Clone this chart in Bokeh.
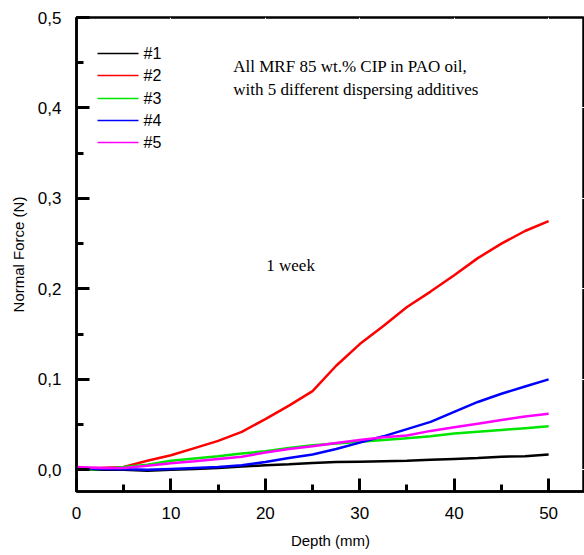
from bokeh.plotting import figure
from bokeh.models import Range1d, CustomJSTickFormatter, SingleIntervalTicker
from bokeh.core.properties import value
from bokeh.embed import file_html
from bokeh.resources import INLINE

depth = [0, 2.5, 5, 7.5, 10, 12.5, 15, 17.5, 20, 22.5, 25, 27.5, 30, 32.5, 35, 37.5, 40, 42.5, 45, 47.5, 50]
s1 = [0.001, 0.000, 0.000, -0.001, 0.000, 0.001, 0.002, 0.0035, 0.005, 0.006, 0.0075, 0.0085, 0.009, 0.0095, 0.010, 0.011, 0.012, 0.013, 0.0145, 0.015, 0.017]
s2 = [0.002, 0.002, 0.003, 0.010, 0.016, 0.024, 0.032, 0.042, 0.056, 0.071, 0.087, 0.115, 0.139, 0.159, 0.180, 0.197, 0.215, 0.234, 0.250, 0.264, 0.275]
s3 = [0.000, 0.001, 0.003, 0.0055, 0.010, 0.0125, 0.015, 0.018, 0.0205, 0.024, 0.027, 0.029, 0.031, 0.033, 0.035, 0.037, 0.040, 0.042, 0.044, 0.046, 0.048]
s4 = [0.002, 0.001, 0.0005, 0.000, 0.001, 0.002, 0.003, 0.005, 0.0085, 0.013, 0.017, 0.023, 0.030, 0.037, 0.045, 0.053, 0.064, 0.075, 0.084, 0.092, 0.100]
s5 = [0.003, 0.002, 0.002, 0.0045, 0.0073, 0.0095, 0.012, 0.0145, 0.019, 0.023, 0.026, 0.0295, 0.033, 0.036, 0.038, 0.043, 0.047, 0.051, 0.055, 0.059, 0.062]
names = ["#1", "#2", "#3", "#4", "#5"]
colors = ["#000000", "#ff0000", "#00e600", "#0000ff", "#ff00ff"]
series = [s1, s2, s3, s4, s5]

x_title = "Depth (mm)"
y_title = "Normal Force (N)"
notes = ["All MRF 85 wt.% CIP in PAO oil,", "with 5 different dispersing additives", "1 week"]
note_x = [16.6, 16.6, 20.1]
note_y = [0.4459, 0.4209, 0.2255]

W, H = 584, 555
BL, BR, BT, BB = 76, 0, 17, 64
X0, X1, Y0, Y1 = 0, 53.8, -0.024, 0.5

p = figure(width=W, height=H, output_backend="svg", toolbar_location=None,
           x_range=Range1d(X0, X1), y_range=Range1d(Y0, Y1),
           min_border_left=BL, min_border_right=BR, min_border_top=BT, min_border_bottom=BB)
p.outline_line_color = "#000000"
p.outline_line_width = 2.5
p.xgrid.grid_line_color = "#ffffff"
p.ygrid.grid_line_color = "#ffffff"

SANS = "Liberation Sans"
SERIF = "Liberation Serif"

xa = p.xaxis[0]
ya = p.yaxis[0]
xa.ticker = SingleIntervalTicker(interval=10, num_minor_ticks=2)
ya.ticker = SingleIntervalTicker(interval=0.1, num_minor_ticks=2)
ya.formatter = CustomJSTickFormatter(code="return tick.toFixed(1).replace('.', ',');")
xa.axis_label = x_title
ya.axis_label = y_title

for ax in (xa, ya):
    ax.axis_line_width = 2.5
    ax.major_tick_line_width = 3
    ax.minor_tick_line_width = 3
    ax.major_tick_in = 13
    ax.major_tick_out = 0
    ax.minor_tick_in = 7
    ax.minor_tick_out = 0
    ax.major_label_text_font = SANS
    ax.major_label_text_font_size = "17px"
    ax.major_label_text_color = "#000000"
    ax.major_label_standoff = 15
    ax.axis_label_text_font = SANS
    ax.axis_label_text_font_size = "15px"
    ax.axis_label_text_font_style = "normal"
    ax.axis_label_text_color = "#000000"
xa.axis_label_standoff = 10
ya.axis_label_standoff = 8

for col, s in zip(colors, series):
    p.line(depth, s, line_color=col, line_width=2.5)

p.text(x=note_x, y=note_y, text=notes, text_font=value(SERIF), text_font_size=value("17px"),
       text_baseline="alphabetic", text_align="left", text_color="#000000")

# key drawn as sample lines and texts, placed in pixels from the frame's top-left corner
px_x = (X1 - X0) / (W - BL - BR)
px_y = (Y1 - Y0) / (H - BT - BB)
key_row_px = [36, 58, 81, 103, 125]
key_y = [Y1 - r * px_y for r in key_row_px]
key_x0 = X0 + 21 * px_x
key_x1 = X0 + 62 * px_x
key_tx = X0 + 67 * px_x
p.segment(x0=[key_x0] * len(names), y0=key_y, x1=[key_x1] * len(names), y1=key_y,
          line_color=colors, line_width=1.5)
p.text(x=[key_tx] * len(names), y=key_y, text=names, text_font=value(SANS),
       text_font_size=value("16px"), text_baseline="middle", text_align="left",
       text_color="#000000")

open("out.html", "w").write(file_html(p, INLINE))
